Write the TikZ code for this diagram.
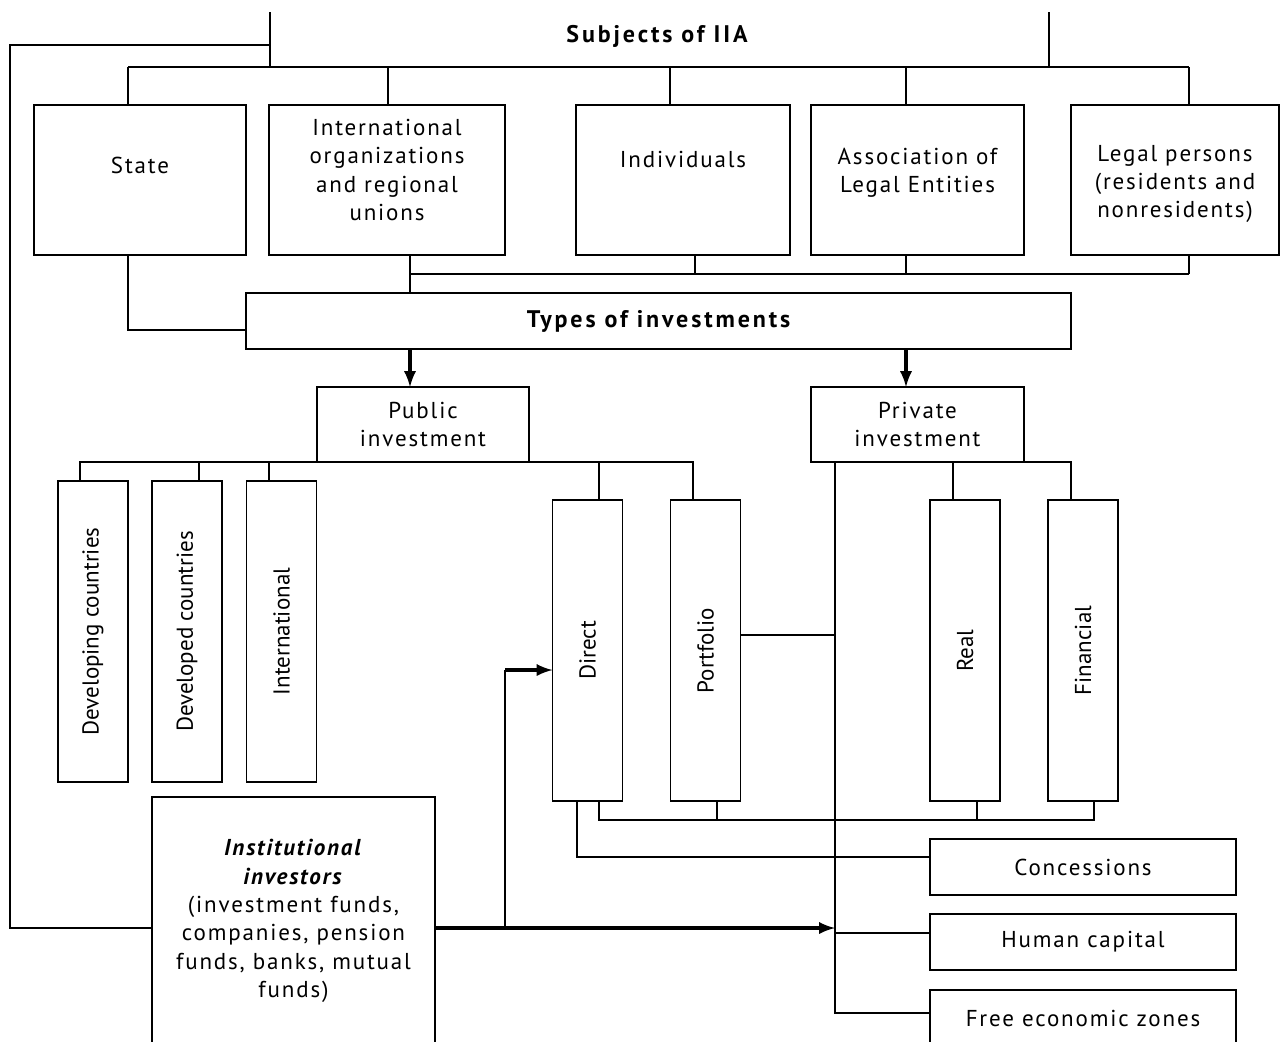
\documentclass[tikz,border=0pt]{standalone}
\usepackage{fontspec}
\setmainfont{PT Sans}[LetterSpace=8]
\newfontfamily\vfont{PT Sans}
\usetikzlibrary{arrows,positioning,calc}

\tikzset{
  wh/.style 2 args={minimum width=#1*0.5pt, minimum height=#2*0.5pt},
  box/.style={draw, line width=0.9pt, inner sep=2pt, outer sep=0pt, align=center,
    font=\fontsize{11.5}{14.2}\selectfont},
  vbox/.style={box, rotate=90, font=\vfont\fontsize{11.5}{14}\selectfont},
  link/.style={line width=0.9pt},
  bigarrow/.style={line width=1.7pt, -latex},
  heading/.style={font=\fontsize{12}{14}\selectfont\addfontfeature{LetterSpace=12}\bfseries},
  every label/.style={align=center, font=\fontsize{11.5}{14.2}\selectfont}
}

\begin{document}
\begin{tikzpicture}[x=0.5pt,y=-0.5pt]

      \useasboundingbox (0,0) rectangle (1281,1041);
      \clip (0,0) rectangle (1281,1041);

      % the heading
      \node[heading] (subj) at (657,36) {Subjects of IIA};

      % draw the subjects (text set a little off the middle)
      \node[box,wh={212}{150},label={[name=stateT,yshift=7.5pt]center:State}] (state) at (140,180) {};
      \node[box,wh={236}{150},label={[name=intlT,yshift=5pt]center:International\\organizations\\and regional\\unions}] (intl) at (387,180) {};
      \node[box,wh={214}{150},label={[name=indivT,yshift=10.5pt]center:Individuals}] (indiv) at (683,180) {};
      \node[box,wh={213}{150},label={[name=assocT,yshift=3.75pt]center:Association of\\Legal Entities}] (assoc) at (917.5,180) {};
      \node[box,wh={208}{150},label={[name=legalT,yshift=-2pt]center:Legal persons\\(residents and\\nonresidents)}] (legal) at (1175,180) {};

      % the types
      \node[box,wh={825}{56},heading] (types) at (658.5,321) {Types of investments};
      \node[box,wh={212}{75}] (public)  at (423,424.5)   {Public\\investment};
      \node[box,wh={213}{75}] (private) at (917.5,424.5) {Private\\investment};

      % the vertical boxes
      \foreach \name/\cx/\cy/\txt in {dev/93/631.5/Developing countries,
        dvd/187/631.5/Developed countries, intnl/281.5/631.5/International,
        direct/587.5/650.5/Direct, portf/705.5/650.5/Portfolio,
        real/965/650.5/Real, fin/1083/650.5/Financial}
        \node[vbox,wh={301}{70}] (\name) at (\cx,\cy) {\txt};

      % the boxes on the right and the investors
      \node[box,wh={306}{56}] (conc)  at (1083,867)  {Concessions};
      \node[box,wh={306}{56}] (human) at (1083,942)  {Human capital};
      \node[box,wh={306}{56}] (free)  at (1083,1018) {Free economic zones};
      \node[box,wh={283}{248}] (inst) at (293.5,921)
        {\textbf{\textit{Institutional}}\\\textbf{\textit{investors}}\\(investment funds,\\companies, pension\\funds, banks, mutual\\funds)};

      % draw the links of the subjects
      \draw[link] (270,12) -- (270,67);
      \draw[link] (1049,12) -- (1049,67);
      \draw[link] (128,67) -- (1189,67);
      \foreach \n/\x in {state/128, intl/388, indiv/670, assoc/906, legal/1189}
        \draw[link] (\x,67) -- (\x,0 |- \n.north);
      \draw[link] (270,45) -- (10,45) -- (10,928) -- (10,928 -| inst.west);

      % subjects to types
      \draw[link] (128,0 |- state.south) -- (128,330) -- (types.west |- 0,330);
      \draw[link] (410,0 |- intl.south) -- (410,0 |- types.north);
      \draw[link] (410,274) -- (1189,274);
      \foreach \n/\x in {indiv/695, assoc/906, legal/1189}
        \draw[link] (\x,0 |- \n.south) -- (\x,274);

      \draw[bigarrow] (410,0 |- types.south) -- (410,0 |- public.north);
      \draw[bigarrow] (906,0 |- types.south) -- (906,0 |- private.north);

      % public investment
      \draw[link] (80,0 |- dev.east) -- (80,0 |- public.south) -- (693,0 |- public.south) -- (693,0 |- portf.east);
      \foreach \n/\x in {dvd/199, intnl/269, direct/599}
        \draw[link] (\x,0 |- public.south) -- (\x,0 |- \n.east);

      % private investment
      \draw[link] (835,0 |- private.south) -- (835,1013) -- (free.west |- 0,1013);
      \draw[link] (953,0 |- private.south) -- (953,0 |- real.east);
      \draw[link] (private.south east) -- (1071,0 |- private.south) -- (1071,0 |- fin.east);
      \draw[link] (portf.south |- 0,635) -- (835,635);

      % the bottom links
      \draw[link] (599,0 |- direct.west) -- (599,820) -- (1094,820) -- (1094,0 |- fin.west);
      \foreach \n/\x in {portf/717, real/977}
        \draw[link] (\x,0 |- \n.west) -- (\x,820);
      \draw[link] (577,0 |- direct.west) -- (577,857) -- (conc.west |- 0,857);
      \draw[link] (835,933) -- (human.west |- 0,933);

      % the investors
      \draw[bigarrow] (inst.east |- 0,928) -- (835,928);
      \draw[line width=1.3pt] (505,928) -- (505,670);
      \draw[bigarrow] (505,670) -- (direct.north |- 0,670);

\end{tikzpicture}
\end{document}
